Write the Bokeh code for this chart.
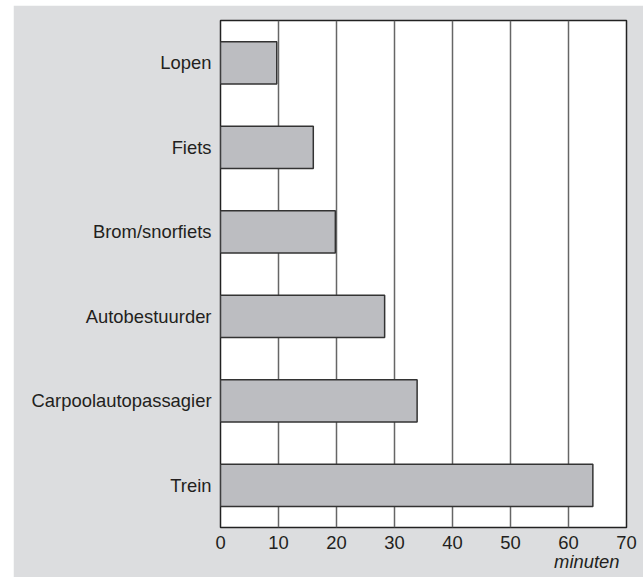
from bokeh.plotting import figure
from bokeh.models import Range1d, FactorRange, Title, FixedTicker
from bokeh.embed import file_html
from bokeh.resources import INLINE

categories = ["Lopen", "Fiets", "Brom/snorfiets", "Autobestuurder", "Carpoolautopassagier", "Trein"]
minutes = [9.7, 16.0, 19.8, 28.3, 33.9, 64.2]
x_ticks = [0, 10, 20, 30, 40, 50, 60, 70]

FONT = "Liberation Sans"
TXT = "#231f20"
BG = "#dcdddf"
FS = "18.4px"

p = figure(width=630, height=572, output_backend="svg", toolbar_location=None,
           x_range=Range1d(0, 70),
           y_range=FactorRange(factors=list(reversed(categories)), range_padding=0),
           min_border_left=207, min_border_right=17, min_border_top=15, min_border_bottom=50,
           margin=(5, 0, 0, 13))

p.border_fill_color = BG
p.background_fill_color = "white"
p.outline_line_color = "#222222"
p.outline_line_width = 1.5

p.hbar(y=categories, left=0, right=minutes, height=0.5,
       fill_color="#bcbdc1", line_color="#333333", line_width=1.5)

p.ygrid.grid_line_color = None
p.xgrid.grid_line_color = "#666666"
p.xgrid.grid_line_width = 1.5
p.xgrid.ticker = FixedTicker(ticks=x_ticks)

p.xaxis.ticker = FixedTicker(ticks=x_ticks)
for ax in (p.xaxis[0], p.yaxis[0]):
    ax.axis_line_color = None
    ax.major_tick_line_color = None
    ax.minor_tick_line_color = None
    ax.major_tick_out = 0
    ax.major_tick_in = 0
    ax.major_label_text_font = FONT
    ax.major_label_text_font_size = FS
    ax.major_label_text_color = TXT
p.xaxis.major_label_standoff = 8
p.yaxis.major_label_standoff = 9

unit = Title(text="minuten", align="right", offset=7, standoff=-5,
             text_font=FONT, text_font_size=FS, text_font_style="italic",
             text_color=TXT)
p.add_layout(unit, "below")

open("out.html", "w").write(file_html(p, INLINE))
